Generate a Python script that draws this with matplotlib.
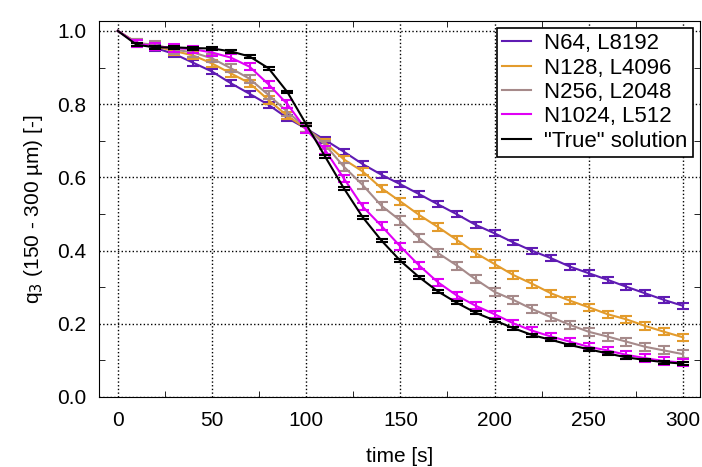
import matplotlib
matplotlib.use('Agg')
import matplotlib.pyplot as plt
from matplotlib.ticker import MultipleLocator

plt.rcParams['font.family'] = ['Liberation Sans', 'DejaVu Sans']

# dados (a cada 10 s)
tempo = list(range(0, 310, 10))

n64_l8192 = [1.0, 0.967, 0.953, 0.937, 0.913, 0.889, 0.857, 0.828, 0.798, 0.762, 0.733,
             0.702, 0.670, 0.636, 0.607, 0.581, 0.554, 0.526, 0.499, 0.470, 0.447,
             0.422, 0.399, 0.379, 0.356, 0.338, 0.320, 0.301, 0.283, 0.265, 0.249]
n128_l4096 = [1.0, 0.968, 0.958, 0.945, 0.933, 0.911, 0.884, 0.857, 0.811, 0.768, 0.733,
              0.695, 0.649, 0.616, 0.570, 0.534, 0.497, 0.464, 0.429, 0.393, 0.363,
              0.333, 0.309, 0.283, 0.263, 0.245, 0.226, 0.212, 0.194, 0.178, 0.163]
n256_l2048 = [1.0, 0.967, 0.962, 0.949, 0.941, 0.925, 0.898, 0.869, 0.825, 0.779, 0.735,
              0.689, 0.629, 0.579, 0.522, 0.482, 0.434, 0.393, 0.359, 0.321, 0.287,
              0.265, 0.240, 0.218, 0.197, 0.178, 0.165, 0.151, 0.137, 0.127, 0.117]
n1024_l512 = [1.0, 0.965, 0.958, 0.953, 0.950, 0.941, 0.927, 0.902, 0.854, 0.800, 0.730,
              0.675, 0.597, 0.520, 0.467, 0.411, 0.359, 0.313, 0.277, 0.249, 0.226,
              0.201, 0.181, 0.165, 0.151, 0.137, 0.127, 0.115, 0.106, 0.098, 0.094]
solucao_real = [1.0, 0.962, 0.955, 0.955, 0.953, 0.952, 0.944, 0.930, 0.898, 0.833, 0.745,
                0.657, 0.570, 0.491, 0.427, 0.372, 0.327, 0.288, 0.257, 0.230, 0.209,
                0.188, 0.169, 0.156, 0.142, 0.130, 0.119, 0.108, 0.101, 0.095, 0.091]

series = [n64_l8192, n128_l4096, n256_l2048, n1024_l512, solucao_real]
rotulos = ['N64, L8192', 'N128, L4096', 'N256, L2048', 'N1024, L512', '"True" solution']
erros = [0.008, 0.010, 0.011, 0.010, 0.004]
cores = ['#5f1bb3', '#e39b2c', '#a68a8a', '#e000f5', '#000000']

fig = plt.figure(figsize=(7.02, 4.67), dpi=100)
ax = fig.add_axes([0.141, 0.150, 0.856, 0.805])

for y, rot, err, cor in zip(series, rotulos, erros, cores):
    ax.plot(tempo, y, color=cor, lw=1.5, label=rot)
    # sem barra de erro no ponto inicial (t = 0)
    ax.errorbar(tempo[1:], y[1:], yerr=err, color=cor, fmt='none', elinewidth=1.5,
                capsize=4.5, capthick=1.5)

ax.set_xlim(-10, 309)
ax.set_ylim(0, 1.027)
ax.xaxis.set_major_locator(MultipleLocator(50))
ax.xaxis.set_minor_locator(MultipleLocator(25))
ax.yaxis.set_major_locator(MultipleLocator(0.2))
ax.yaxis.set_minor_locator(MultipleLocator(0.1))
ax.yaxis.set_major_formatter(plt.FuncFormatter(lambda v, p: '%.1f' % v))
ax.tick_params(which='both', direction='in', top=True, right=True, labelsize=15)
ax.tick_params(axis='x', which='major', length=0, pad=10)
ax.tick_params(axis='y', which='major', length=0, pad=9)
ax.tick_params(which='minor', length=4)
ax.grid(True, which='major', linestyle=':', color='black', lw=1)

ax.set_xlabel('time [s]', fontsize=15, labelpad=12)
ax.set_ylabel('q$_3$ (150 - 300 \u00b5m) [-]', fontsize=15, labelpad=9)

leg = ax.legend(loc='upper right', fontsize=16, handlelength=1.3, borderaxespad=0.3,
                fancybox=False, framealpha=1, labelspacing=0.15, borderpad=0.25,
                handletextpad=0.6)
leg.get_frame().set_edgecolor('black')
leg.get_frame().set_linewidth(1.2)

plt.savefig('out.png', dpi=100)
